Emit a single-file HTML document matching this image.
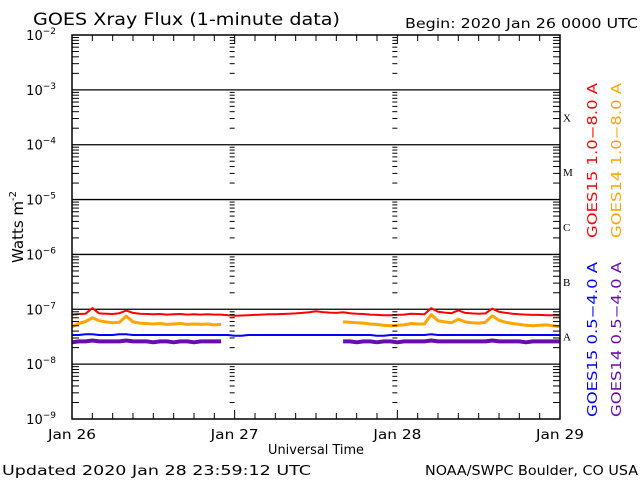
<!DOCTYPE html>
<html><head><meta charset="utf-8"><style>
html,body{margin:0;padding:0;background:#fff;}
svg{display:block;font-family:"DejaVu Sans","Liberation Sans",sans-serif;}
</style></head><body>
<svg id="chart" width="640" height="480" viewBox="0 0 640 480">
<text x="33" y="25" font-size="17" textLength="307" lengthAdjust="spacingAndGlyphs" fill="#000">GOES Xray Flux (1-minute data)</text>
<text x="405" y="28" font-size="13" textLength="233" lengthAdjust="spacingAndGlyphs" fill="#000">Begin:  2020 Jan 26 0000 UTC</text>
<text x="268" y="454" font-size="13" textLength="96" lengthAdjust="spacingAndGlyphs" fill="#000">Universal Time</text>
<text x="2" y="475" font-size="13" textLength="309" lengthAdjust="spacingAndGlyphs" fill="#000">Updated 2020 Jan 28 23:59:12 UTC</text>
<text x="425" y="475" font-size="13" textLength="213" lengthAdjust="spacingAndGlyphs" fill="#000">NOAA/SWPC Boulder, CO USA</text>
<text transform="translate(23,227) rotate(-90)" font-size="15" text-anchor="middle" fill="#000">Watts m<tspan font-size="10" dy="-7">-2</tspan></text>
<g id="grid"></g>
<g id="series"></g>
<g id="frame"></g>
<text transform="translate(597,238) rotate(-90)" font-size="13" textLength="155" lengthAdjust="spacingAndGlyphs" fill="#ff0000">GOES15 1.0−8.0 A</text>
<text transform="translate(621,238) rotate(-90)" font-size="13" textLength="155" lengthAdjust="spacingAndGlyphs" fill="#ffa500">GOES14 1.0−8.0 A</text>
<text transform="translate(597,417) rotate(-90)" font-size="13" textLength="155" lengthAdjust="spacingAndGlyphs" fill="#0000ff">GOES15 0.5−4.0 A</text>
<text transform="translate(621,417) rotate(-90)" font-size="13" textLength="155" lengthAdjust="spacingAndGlyphs" fill="#6a0dad">GOES14 0.5−4.0 A</text>
</svg>
<script>
// data: flux in units of 1e-8 W/m^2, hourly from Jan 26 00 UTC (73 points)
const dayLabels = ["Jan 26","Jan 27","Jan 28","Jan 29"];
const decadeExponents = [-9,-8,-7,-6,-5,-4,-3,-2];
const flareClasses = ["A","B","C","M","X"];
const goes15Long = [8.0,8.2,8.3,10.5,8.4,8.3,8.2,8.5,9.5,8.6,8.3,8.2,8.1,8.2,8.0,8.1,8.2,8.0,8.1,8.0,8.1,8.0,8.0,7.8,7.6,7.7,7.8,7.9,8.0,8.1,8.1,8.2,8.3,8.4,8.6,8.8,9.2,8.9,8.7,8.6,8.8,8.5,8.3,8.2,8.0,7.9,7.8,7.8,7.9,8.0,8.3,8.2,8.1,10.5,9.0,8.7,8.5,9.6,8.6,8.4,8.3,8.4,10.3,9.0,8.6,8.3,8.1,8.0,7.9,7.9,7.8,7.8,7.7];
const goes14Long = [4.8,5.5,6.0,7.0,6.2,5.9,5.7,5.8,7.5,5.9,5.6,5.5,5.4,5.5,5.3,5.4,5.5,5.3,5.4,5.3,5.4,5.2,5.3,null,null,null,null,null,null,null,null,null,null,null,null,null,null,null,null,null,5.9,5.8,5.7,5.6,5.4,5.3,5.1,5.0,5.1,5.2,5.5,5.4,5.4,8.0,6.2,5.9,5.7,6.6,5.9,5.7,5.6,5.8,7.6,6.3,5.8,5.5,5.3,5.1,5.0,5.1,5.2,5.0,4.8];
const goes15Short = [3.4,3.4,3.5,3.5,3.4,3.4,3.4,3.5,3.5,3.4,3.4,3.4,3.4,3.4,3.4,3.4,3.4,3.4,3.4,3.4,3.4,3.4,3.4,3.4,3.3,3.3,3.4,3.4,3.4,3.4,3.4,3.4,3.4,3.4,3.4,3.4,3.4,3.4,3.4,3.4,3.4,3.4,3.4,3.4,3.4,3.3,3.3,3.4,3.4,3.4,3.4,3.4,3.4,3.5,3.4,3.4,3.4,3.4,3.4,3.4,3.4,3.4,3.4,3.4,3.4,3.4,3.4,3.4,3.4,3.4,3.4,3.4,3.4];
const goes14Short = [2.5,2.6,2.6,2.7,2.6,2.6,2.6,2.6,2.7,2.6,2.6,2.6,2.5,2.6,2.6,2.5,2.6,2.6,2.5,2.6,2.6,2.6,2.6,null,null,null,null,null,null,null,null,null,null,null,null,null,null,null,null,null,2.6,2.6,2.5,2.6,2.6,2.5,2.6,2.6,2.5,2.6,2.6,2.6,2.6,2.7,2.6,2.6,2.6,2.6,2.6,2.6,2.6,2.6,2.7,2.6,2.6,2.6,2.6,2.5,2.6,2.6,2.6,2.6,2.6];

const L=72,R=560,T=35,B=419,NS="http://www.w3.org/2000/svg";
const xScale=h=>L+(R-L)*h/72;
const yScale=v=>T+(B-T)*(-2-Math.log10(v))/7;
function mk(tag,attrs,parent){const e=document.createElementNS(NS,tag);for(const k in attrs)e.setAttribute(k,attrs[k]);parent.appendChild(e);return e;}
const grid=document.getElementById('grid'),frame=document.getElementById('frame'),series=document.getElementById('series');
const svg=document.getElementById('chart');

decadeExponents.forEach(ex=>{
  const y=yScale(Math.pow(10,ex));
  if(ex>-9&&ex<-2){const ln=mk('line',{x1:L,x2:R,y1:y,y2:y,stroke:'#000','stroke-width':1.3},grid);
  
  }
  const t=mk('text',{x:56,y:y+5,'font-size':13,'text-anchor':'end',fill:'#000'},svg);
  
  
  t.textContent='10';
  const s=mk('tspan',{dy:-6,'font-size':9},t);s.textContent=String(ex).replace('-','−');
  if(ex>-9){for(let m=2;m<=9;m++){const yy=yScale(Math.pow(10,ex-1)*m);
    [[L,L+7],[R-7,R],[xScale(24)-5,xScale(24)],[xScale(48)-5,xScale(48)]].forEach(p=>{
      const tk=mk('line',{x1:p[0],x2:p[1],y1:yy,y2:yy,stroke:'#000','stroke-width':1},frame);
      
      });}}
});
for(let h=0;h<=72;h+=3){const x=xScale(h),len=(h%24===0)?9:6;
  const a=mk('line',{x1:x,x2:x,y1:B,y2:B-len,stroke:'#000','stroke-width':1},frame);
  
  
  const b=mk('line',{x1:x,x2:x,y1:T,y2:T+len,stroke:'#000','stroke-width':1},frame);
  
  }
dayLabels.forEach((d,i)=>{const t=mk('text',{x:xScale(i*24)-24,y:439,'font-size':13,textLength:48,lengthAdjust:'spacingAndGlyphs',fill:'#000'},svg);
  
  
  t.textContent=d;});
flareClasses.forEach((c,i)=>{const y=(yScale(Math.pow(10,-8+i))+yScale(Math.pow(10,-7+i)))/2;
  const t=mk('text',{x:563,y:y+4,'font-size':11,fill:'#000','font-family':'Liberation Serif, serif'},svg);
  
  
  t.textContent=c;});
const rect=mk('rect',{x:L,y:T,width:R-L,height:B-T,fill:'none',stroke:'#000','stroke-width':1.5},frame);



function drawSeries(arr,color,w,name){let d='',pen=false;
  arr.forEach((v,i)=>{if(v==null){pen=false;return;}const x=xScale(i).toFixed(1),y=yScale(v*1e-8).toFixed(1);d+=(pen?'L':'M')+x+' '+y;pen=true;});
  const p=mk('path',{d:d,fill:'none',stroke:color,'stroke-width':w,'stroke-linejoin':'round'},series);
  
  }
drawSeries(goes14Short,'#6a0dad',4,'goes14-short-line');
drawSeries(goes15Short,'#0000ff',2,'goes15-short-line');
drawSeries(goes14Long,'#ffa500',3,'goes14-long-line');
drawSeries(goes15Long,'#ff0000',2,'goes15-long-line');
</script>
</body></html>
